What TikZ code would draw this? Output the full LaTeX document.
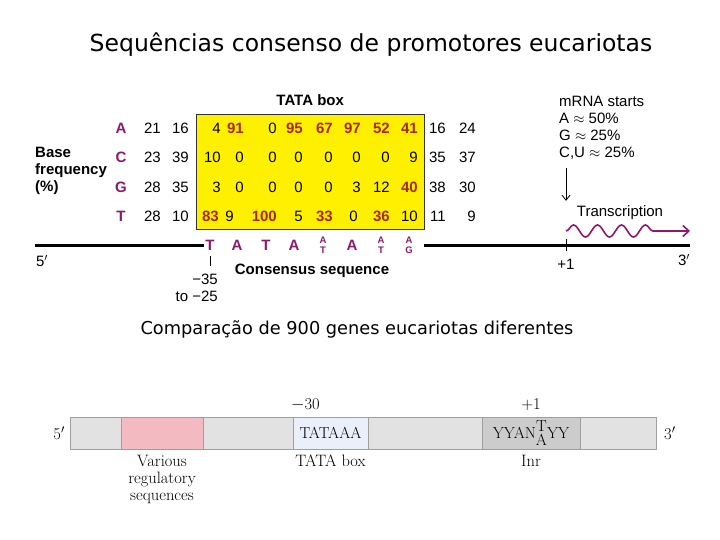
\documentclass[tikz,border=0pt]{standalone}
\usepackage{fontspec}
\usepackage{tikz}
\usetikzlibrary{positioning,arrows.meta,decorations.pathmorphing}
\newfontfamily\figsans{Liberation Sans}
\newfontfamily\titlefont{DejaVu Sans}
\definecolor{basepurple}{RGB}{140, 25, 110}
\definecolor{tatared}{RGB}{165, 40, 15}
\definecolor{tatayellow}{RGB}{255, 240, 0}
\definecolor{barpink}{RGB}{244, 186, 194}
\definecolor{barblue}{RGB}{234, 240, 250}
\definecolor{bargray}{RGB}{226, 226, 226}
\definecolor{inrgray}{RGB}{204, 204, 204}
\newcommand{\consstack}[2]{\shortstack{\fontsize{9.5}{9.5}\selectfont#1\\\fontsize{9.5}{9.5}\selectfont#2}}

\begin{document}
\begin{tikzpicture}[
  x=1pt, y=-1pt,
  sans/.style={font=\figsans\fontsize{15}{17}\selectfont, inner sep=0pt},
  boldsans/.style={font=\figsans\bfseries\fontsize{15}{17}\selectfont, inner sep=0pt},
  base/.style={boldsans, text=basepurple},
  num/.style={sans, anchor=east},
  hi/.style={boldsans, anchor=east, text=tatared},
  cons/.style={base, inner sep=1pt},
  dna/.style={line width=3pt},
  wave/.style={basepurple, line width=1.6pt, -{Straight Barb[length=6pt, width=11pt]},
               decorate, decoration={snake, segment length=24pt, amplitude=6pt, post length=26pt}},
  seg/.style={draw=gray!75, minimum height=32pt, anchor=west, inner sep=0pt, outer sep=0pt,
              font=\fontsize{16}{18}\selectfont},
  serif/.style={font=\fontsize{16.5}{17}\selectfont, inner sep=0pt}
]
\useasboundingbox[fill=white] (0,0) rectangle (720,540);

\node[font=\titlefont\fontsize{23.5}{28}\selectfont] (title) at (371,45)
  {Sequências consenso de promotores eucariotas};

% base frequency table
\node[draw=black!80, fill=tatayellow, minimum width=228pt, minimum height=115pt,
      anchor=north west, inner sep=0pt] (tatabox) at (196,114) {};
\node[boldsans, above=8pt of tatabox] (tatalbl) {TATA box};
\node[boldsans, align=left, anchor=west] (basefreq) at (35,171) {Base\\frequency\\(\%)};

\node[base] (rA) at (121,128) {A};
\node[base] (rC) at (121,157) {C};
\node[base] (rG) at (121,187) {G};
\node[base] (rT) at (121,216) {T};

\foreach \x/\v/\s [count=\c] in {161/21/num,189/16/num,221/4/num,244/91/hi,277/0/num,303/95/hi,
    333/67/hi,361/97/hi,390/52/hi,418/41/hi,446/16/num,476/24/num}
  \node[\s] (nA\c) at (\x,128) {\v};
\foreach \x/\v/\s [count=\c] in {161/23/num,189/39/num,221/10/num,244/0/num,277/0/num,303/0/num,
    333/0/num,361/0/num,390/0/num,418/9/num,446/35/num,476/37/num}
  \node[\s] (nC\c) at (\x,157) {\v};
\foreach \x/\v/\s [count=\c] in {161/28/num,189/35/num,221/3/num,244/0/num,277/0/num,303/0/num,
    333/0/num,361/3/num,390/12/num,418/40/hi,446/38/num,476/30/num}
  \node[\s] (nG\c) at (\x,187) {\v};
\foreach \x/\v/\s [count=\c] in {161/28/num,189/10/num,219/83/hi,234/9/num,277/100/hi,303/5/num,
    333/33/hi,358/0/num,390/36/hi,418/10/num,446/11/num,476/9/num}
  \node[\s] (nT\c) at (\x,216) {\v};

% consensus sequence on the DNA
\foreach \x/\l [count=\c] in {210/T,237/A,266/T,294/A,323/{\consstack AT},352/A,
    381/{\consstack AT},409/{\consstack AG}}
  \node[cons] (c\c) at (\x,245) {\l};

\coordinate (five) at (35,245);
\coordinate (three) at (690,245);
\coordinate (tss) at (566,245);
\draw[dna] (five) -- (c1);
\draw[dna] (tatabox.east |- five) -- (three);
\draw[thick] (tss) ++(0,-6) -- ++(0,12);
\draw (c1.south) ++(0,5) -- ++(0,10);

\node[sans] (fivelbl) at (42,261) {5$'$};
\node[sans] (threelbl) at (684,260) {3$'$};
\node[sans, below=14pt of tss] (plusone) {+1};
\node[sans, align=right, anchor=east] (range) at (218,288) {−35\\to −25};
\node[boldsans] (conslbl) at (312,271) {Consensus sequence};

% start site and transcription
\node[sans, align=left, anchor=north west] (mrna) at (559,96)
  {mRNA starts\\A $\approx$ 50\%\\G $\approx$ 25\%\\C,U $\approx$ 25\%};
\node[sans] (trans) at (620,213) {Transcription};
\draw[thick, -{Straight Barb[length=5pt, width=8pt]}, shorten <=8pt, shorten >=5pt]
  (mrna.south -| tss) -- (trans.north -| tss);
\coordinate (wavestart) at (566,231);
\coordinate (waveend) at (690,231);
\draw[wave] (wavestart) -- (waveend);

\node[font=\titlefont\fontsize{17.75}{20}\selectfont] (compare) at (357,329)
  {Comparação de 900 genes eucariotas diferentes};

% promoter map
\node[seg, fill=bargray, minimum width=51pt] (g1) at (70,433) {};
\node[seg, fill=barpink, minimum width=82pt, right=0pt of g1] (reg) {};
\node[seg, fill=bargray, minimum width=90pt, right=0pt of reg] (g2) {};
\node[seg, fill=barblue, minimum width=75pt, right=0pt of g2] (tata) {TATAAA};
\node[seg, fill=bargray, minimum width=114pt, right=0pt of tata] (g3) {};
\node[seg, fill=inrgray, minimum width=98pt, right=0pt of g3] (inr)
  {YYAN\raisebox{-7pt}{\shortstack{T\\A}}YY};
\node[seg, fill=bargray, minimum width=76pt, right=0pt of inr] (g4) {};

\node[serif, left=5pt of g1] (map5) {5$'$};
\node[serif, right=8pt of g4] (map3) {3$'$};
\node[serif, above=6pt of tata, xshift=-25pt] (minus30) {$-$30};
\node[serif, above=6pt of inr] (plus1) {+1};
\node[serif, align=center, below=6pt of reg] (reglbl) {Various\\regulatory\\sequences};
\node[serif, below=6pt of tata] (tatabl) {TATA box};
\node[serif, below=6pt of inr] (inrlbl) {Inr};
\end{tikzpicture}
\end{document}
